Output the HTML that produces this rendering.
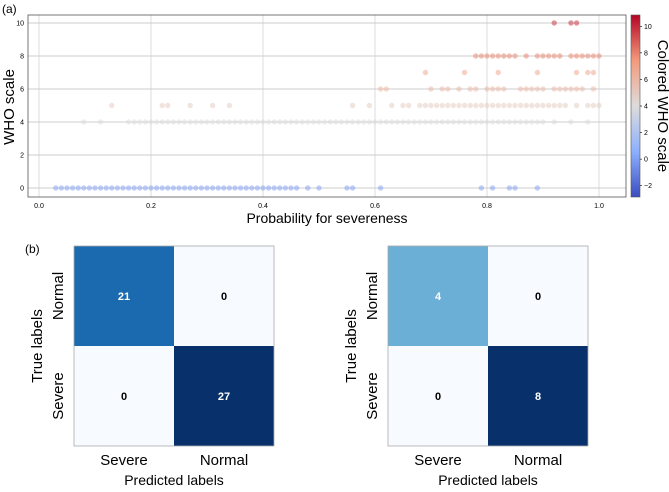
<!DOCTYPE html>
<html><head><meta charset="utf-8"><style>
body{margin:0;background:#fff;width:669px;height:487px;overflow:hidden}
svg text{font-family:"Liberation Sans",sans-serif}
</style></head><body>
<svg id="fig" width="669" height="487" xmlns="http://www.w3.org/2000/svg">
<defs><linearGradient id="cw" x1="0" y1="1" x2="0" y2="0">
<stop offset="0" stop-color="#3b4cc0"/><stop offset="0.25" stop-color="#8db0fe"/><stop offset="0.5" stop-color="#dddcdc"/><stop offset="0.75" stop-color="#f49a7b"/><stop offset="1" stop-color="#b40426"/></linearGradient></defs>
<text x="2" y="13" font-size="12">(a)</text>
<g id="scatter"></g>
<text x="25" y="253" font-size="12">(b)</text>
<g id="cm1"></g>
<g id="cm2"></g>
</svg>
<script>
const yLevels=[0,4,5,6,7,8,10];
const xs0=[0.03,0.04,0.05,0.06,0.07,0.08,0.09,0.10,0.11,0.12,0.13,0.14,0.15,0.16,0.17,0.18,0.19,0.20,0.21,0.22,0.23,0.24,0.25,0.26,0.27,0.28,0.29,0.30,0.31,0.32,0.33,0.34,0.35,0.36,0.37,0.38,0.39,0.40,0.41,0.42,0.43,0.44,0.45,0.46,0.48,0.50,0.55,0.56,0.61,0.79,0.81,0.84,0.85,0.89];
const xs4=[0.08,0.11,0.16,0.17,0.18,0.19,0.20,0.21,0.22,0.23,0.24,0.25,0.26,0.27,0.28,0.29,0.30,0.31,0.32,0.33,0.34,0.35,0.36,0.37,0.38,0.39,0.40,0.41,0.42,0.43,0.44,0.45,0.46,0.47,0.48,0.49,0.50,0.51,0.52,0.53,0.54,0.55,0.56,0.57,0.58,0.59,0.60,0.61,0.62,0.63,0.64,0.65,0.66,0.67,0.68,0.69,0.70,0.71,0.72,0.73,0.74,0.75,0.76,0.77,0.78,0.79,0.80,0.81,0.82,0.83,0.84,0.85,0.86,0.87,0.88,0.89,0.90,0.92,0.95,0.98];
const xs5=[0.13,0.22,0.23,0.27,0.31,0.34,0.56,0.59,0.63,0.65,0.66,0.68,0.69,0.70,0.71,0.72,0.73,0.74,0.75,0.76,0.77,0.78,0.79,0.80,0.81,0.82,0.83,0.84,0.85,0.86,0.87,0.88,0.89,0.90,0.91,0.92,0.93,0.94,0.96,0.98,0.99,1.00];
const xs6=[0.61,0.62,0.70,0.72,0.73,0.75,0.77,0.78,0.80,0.81,0.82,0.83,0.86,0.87,0.88,0.89,0.90,0.92,0.93,0.94,0.95,0.96,0.97,0.99];
const xs7=[0.69,0.76,0.82,0.89,0.96,0.98,0.99];
const xs8=[0.78,0.79,0.80,0.81,0.82,0.83,0.84,0.85,0.87,0.89,0.90,0.91,0.92,0.93,0.95,0.96,0.97,0.98,0.99,1.00];
const xs10=[0.92,0.95,0.96];
const seriesX=[xs0,xs4,xs5,xs6,xs7,xs8,xs10];
const xTicks=[0,0.2,0.4,0.6,0.8,1.0];
const yTicks=[0,2,4,6,8,10];
const cbTicks=[-2,0,2,4,6,8,10];
const cmLabels=["Normal","Severe"];
const predLabels=["Severe","Normal"];
const cm1Values=[[21,0],[0,27]];
const cm2Values=[[4,0],[0,8]];

const NS="http://www.w3.org/2000/svg";
function mk(tag,attrs,parent,txt){const e=document.createElementNS(NS,tag);for(const k in attrs)e.setAttribute(k,attrs[k]);if(txt!==undefined)e.textContent=txt;parent.appendChild(e);return e;}
const L=28,R=626,T=15,B=197;
const sx=v=>39+v*560, sy=v=>188-v*16.5;
const vmin=-2.85,vmax=10.85;
const cby=v=>197-(v-vmin)/(vmax-vmin)*182;
function lerp(a,b,t){return a+(b-a)*t}
const stops=[[0,[59,76,192]],[0.25,[141,176,254]],[0.5,[221,220,220]],[0.75,[244,154,123]],[1,[180,4,38]]];
function cw(v){let t=(v-vmin)/(vmax-vmin);for(let i=0;i<4;i++){const [a,ca]=stops[i],[b,cb]=stops[i+1];if(t<=b){const u=(t-a)/(b-a);return `rgb(${ca.map((c,j)=>Math.round(lerp(c,cb[j],u))).join(',')})`;}}return 'rgb(180,4,38)';}
const g=document.getElementById('scatter');
let e;
xTicks.forEach(t=>{e=mk('line',{x1:sx(t),x2:sx(t),y1:T,y2:B,stroke:'#ddd','stroke-width':1},g);
e=mk('text',{x:sx(t),y:B+11,'font-size':7,'text-anchor':'middle'},g,t.toFixed(1));});
yTicks.forEach(t=>{e=mk('line',{x1:L,x2:R,y1:sy(t),y2:sy(t),stroke:'#ccc','stroke-width':1},g);
e=mk('text',{x:L-4,y:sy(t)+2.5,'font-size':7,'text-anchor':'end'},g,t);});
seriesX.forEach((arr,i)=>{const yv=yLevels[i];arr.forEach(xv=>{e=mk('circle',{cx:sx(xv),cy:sy(yv),r:2.7,fill:cw(yv),'fill-opacity':0.5},g);});});
e=mk('rect',{x:L,y:T,width:R-L,height:B-T,fill:'none',stroke:'#555','stroke-width':0.8},g);
e=mk('text',{x:327,y:223,'font-size':14,'text-anchor':'middle'},g,'Probability for severeness');
e=mk('text',{x:14,y:107,'font-size':15,'text-anchor':'middle',transform:'rotate(-90 14 107)'},g,'WHO scale');
e=mk('rect',{x:631,y:T,width:9,height:B-T,fill:'url(#cw)',stroke:'#555','stroke-width':0.6},g);
cbTicks.forEach(t=>{e=mk('line',{x1:640,x2:642,y1:cby(t),y2:cby(t),stroke:'#000','stroke-width':0.6},g);
e=mk('text',{x:644,y:cby(t)+2.5,'font-size':7},g,t<0?'\u2212'+(-t):t);});
e=mk('text',{x:658,y:106,'font-size':15,'text-anchor':'middle',transform:'rotate(90 658 106)'},g,'Colored WHO scale');

const blues=[[247,251,255],[222,235,247],[198,219,239],[158,202,225],[107,174,214],[66,146,198],[33,113,181],[8,81,156],[8,48,107]];
function bl(t){t=Math.max(0,Math.min(1,t))*8;const i=Math.min(7,Math.floor(t)),u=t-i;return `rgb(${blues[i].map((c,j)=>Math.round(lerp(c,blues[i+1][j],u))).join(',')})`;}
function cm(id,vals,x0,tlx,ttx){const gg=document.getElementById(id);const y0=246,cs=100;const mx=Math.max(...vals.flat());
for(let r=0;r<2;r++)for(let c=0;c<2;c++){const v=vals[r][c],t=v/mx;
e=mk('rect',{x:x0+c*cs,y:y0+r*cs,width:cs,height:cs,fill:bl(t)},gg);
e=mk('text',{x:x0+c*cs+cs/2,y:y0+r*cs+cs/2+4,'font-size':11,'font-weight':'bold','text-anchor':'middle',fill:t>=0.5?'#fff':'#000'},gg,v);}
e=mk('rect',{x:x0,y:y0,width:2*cs,height:2*cs,fill:'none',stroke:'#aaa','stroke-width':0.8},gg);
cmLabels.forEach((l,i)=>{const cy=y0+cs/2+i*cs;e=mk('text',{x:tlx,y:cy,'font-size':15,'text-anchor':'middle',transform:`rotate(-90 ${tlx} ${cy})`},gg,l);});
predLabels.forEach((l,i)=>{e=mk('text',{x:x0+cs/2+i*cs,y:465,'font-size':15,'text-anchor':'middle'},gg,l);});
e=mk('text',{x:x0+cs,y:485,'font-size':14,'text-anchor':'middle'},gg,'Predicted labels');
e=mk('text',{x:ttx,y:346,'font-size':15,'text-anchor':'middle',transform:`rotate(-90 ${ttx} 346)`},gg,'True labels');}
cm('cm1',cm1Values,74,63,42);
cm('cm2',cm2Values,388,377,356);
</script>
</body></html>
